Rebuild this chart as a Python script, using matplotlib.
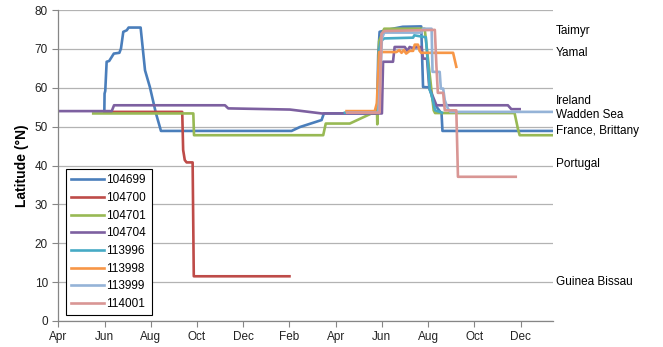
import matplotlib.pyplot as plt

# x values are months since 1 April of the first year
tick_labels = ["Apr", "Jun", "Aug", "Oct", "Dec", "Feb", "Apr", "Jun", "Aug", "Oct", "Dec"]

m_104699 = [1.99, 2.0, 2.03, 2.09, 2.2, 2.4, 2.64, 2.71, 2.81, 2.96, 3.04, 3.56, 3.75, 3.96,
            4.22, 4.44, 10.09, 10.45, 11.39, 11.49, 13.79, 13.84, 13.9, 14.3, 14.9, 15.7,
            15.78, 16.05, 16.25, 16.58, 16.62, 21.4]
lat_104699 = [54.0, 58.5, 59.2, 66.7, 66.9, 68.8, 69.0, 70.1, 74.4, 74.8, 75.5, 75.5, 64.5, 60.2,
              53.5, 48.9, 48.9, 49.9, 51.7, 53.4, 53.4, 68.4, 74.4, 75.0, 75.7, 75.8,
              60.2, 60.1, 56.0, 53.4, 48.9, 48.9]

m_104700 = [2.0, 5.36, 5.40, 5.47, 5.55, 5.81, 5.86, 10.0]
lat_104700 = [53.8, 53.8, 44.0, 41.4, 40.8, 40.8, 11.5, 11.5]

m_104701 = [1.51, 5.84, 5.87, 11.46, 11.57, 12.61, 13.55, 13.79, 13.80, 13.88, 14.1, 15.85,
            16.24, 16.3, 19.74, 19.89, 19.96, 21.4]
lat_104701 = [53.4, 53.4, 47.8, 47.8, 50.8, 50.8, 53.4, 53.4, 50.6, 72.0, 75.2, 75.2,
              54.2, 53.5, 53.5, 49.3, 47.8, 47.8]

m_104704 = [0, 2.31, 2.41, 7.21, 7.35, 10.02, 11.39, 14.0, 14.05, 14.48, 14.55, 14.99, 15.1,
            15.2, 15.3, 15.71, 15.78, 15.95, 16.05, 16.36, 19.45, 19.6, 19.96]
lat_104704 = [54.0, 54.0, 55.5, 55.5, 54.7, 54.4, 53.4, 53.4, 66.7, 66.7, 70.5, 70.5, 69.5,
              70.5, 70.3, 70.5, 67.5, 67.5, 60.0, 55.5, 55.5, 54.5, 54.5]

m_113996 = [12.4, 13.85, 13.88, 13.95, 14.1, 15.35, 15.4, 15.9, 16.0, 16.07, 16.14, 16.3, 16.6]
lat_113996 = [53.6, 53.6, 69.7, 72.0, 72.7, 72.9, 73.5, 73.0, 65.4, 59.4, 58.5, 54.2, 53.6]

m_113998 = [12.47, 13.69, 13.78, 13.88, 14.63, 14.75, 14.85, 14.95, 15.05, 15.2, 15.35, 15.42,
            15.56, 15.63, 15.7, 17.08, 17.22]
lat_113998 = [54.0, 54.0, 56.0, 69.2, 69.2, 69.7, 69.0, 69.7, 68.8, 69.5, 69.5, 71.1,
              71.1, 69.5, 69.0, 69.0, 65.4]

m_113999 = [12.5, 13.85, 13.95, 14.0, 14.1, 14.3, 15.7, 15.78, 16.15, 16.19, 16.5, 16.55,
            16.65, 16.72, 16.85, 16.96, 21.4]
lat_113999 = [53.6, 53.6, 65.0, 72.7, 74.2, 74.2, 74.2, 75.2, 75.2, 64.1, 64.1, 59.8,
              59.8, 56.8, 54.7, 53.8, 53.8]

m_114001 = [12.5, 13.9, 13.98, 14.1, 16.29, 16.36, 16.42, 16.65, 16.72, 17.22, 17.29, 19.79]
lat_114001 = [53.6, 53.6, 73.9, 74.6, 74.9, 65.4, 58.7, 58.7, 54.2, 54.2, 37.1, 37.1]

tags = ["104699", "104700", "104701", "104704", "113996", "113998", "113999", "114001"]
months = [m_104699, m_104700, m_104701, m_104704, m_113996, m_113998, m_113999, m_114001]
lats = [lat_104699, lat_104700, lat_104701, lat_104704, lat_113996, lat_113998, lat_113999, lat_114001]
colors = ["#4A7EBB", "#BE4B48", "#98B954", "#7D60A0", "#46AAC5", "#F79646", "#95B3D7", "#D99694"]

sites = ["Taimyr", "Yamal", "Ireland", "Wadden Sea", "France, Brittany", "Portugal", "Guinea Bissau"]
site_lat = [74.6, 69.0, 56.6, 53.0, 48.8, 40.5, 10.0]

plt.rcParams["font.family"] = ["Liberation Sans", "DejaVu Sans"]

fig = plt.figure(figsize=(6.63, 3.47), dpi=100)
ax = fig.add_axes([0.088, 0.075, 0.746, 0.896])

for tag, x, y, c in zip(tags, months, lats, colors):
    ax.plot(x, y, color=c, lw=1.9, label=tag, solid_joinstyle="round")

ax.set_xlim(0, 21.4)
ax.set_ylim(0, 80)
ax.set_xticks(range(0, 21, 2))
ax.set_xticklabels(tick_labels)
ax.set_yticks(range(0, 81, 10))
ax.tick_params(labelsize=8.5, colors="#222222", length=4, width=0.8)
ax.tick_params(axis="both", color="#868686")
ax.grid(axis="y", color="#B3B3B3", lw=0.9)
ax.set_axisbelow(True)
for s in ["top", "right"]:
    ax.spines[s].set_visible(False)
for s in ["left", "bottom"]:
    ax.spines[s].set_color("#868686")
    ax.spines[s].set_linewidth(0.9)

ax.set_ylabel("Latitude (°N)", fontsize=10, fontweight="bold", labelpad=4)

tr = ax.get_yaxis_transform()
for name, y in zip(sites, site_lat):
    ax.text(1.006, y, name, transform=tr, fontsize=8.5, va="center", ha="left", clip_on=False)

leg = ax.legend(loc="lower left", bbox_to_anchor=(0.015, 0.018), fontsize=8.5, fancybox=False,
                edgecolor="black", framealpha=1, handlelength=2.8, handletextpad=0.2,
                labelspacing=0.48, borderpad=0.45, borderaxespad=0)
leg.get_frame().set_linewidth(0.8)

plt.savefig("out.png", dpi=100)
